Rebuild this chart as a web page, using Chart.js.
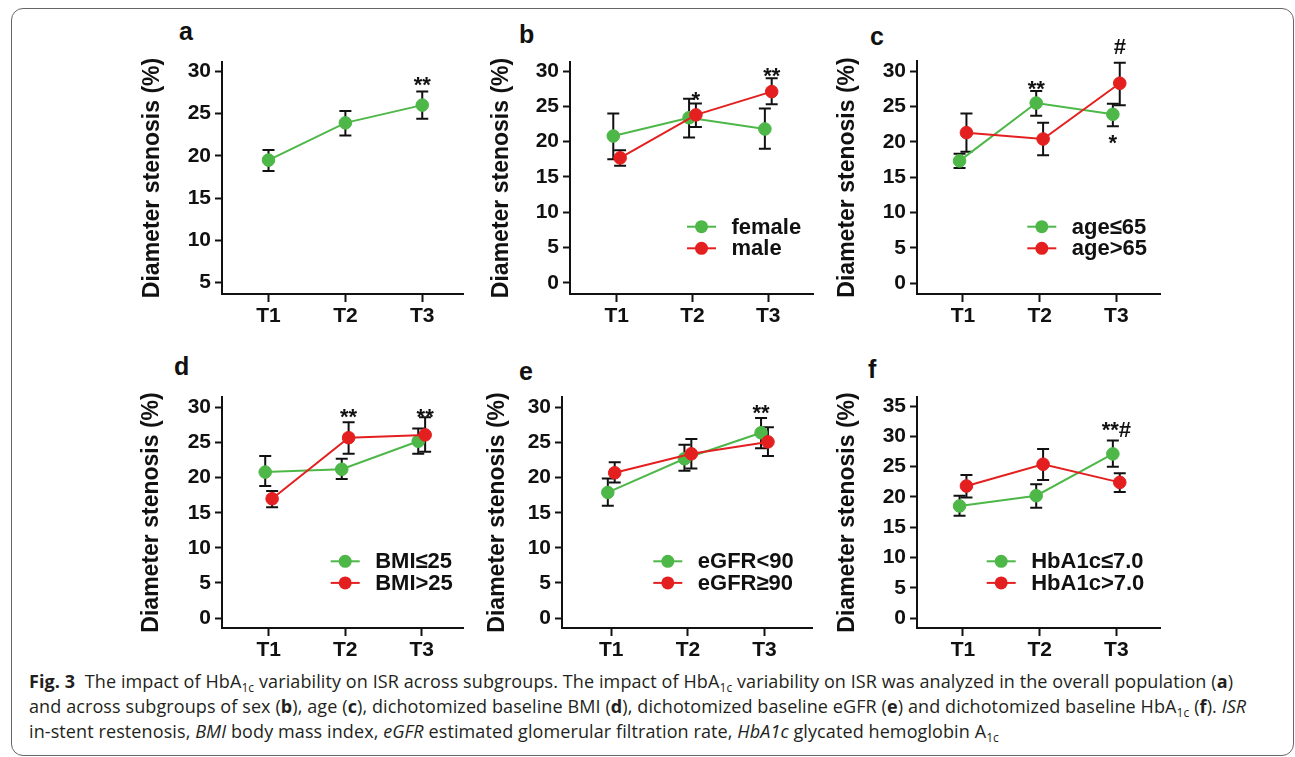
<!DOCTYPE html>
<html>
<head>
<meta charset="utf-8">
<script src="https://cdn.jsdelivr.net/npm/chart.js@4.4.1/dist/chart.umd.min.js"></script>
<style>
  body { margin:0; background:#fff; width:1295px; height:757px; position:relative; overflow:hidden; }
  #frame { position:absolute; left:11px; top:8px; width:1283px; height:748px; box-sizing:border-box; border:1.5px solid #666; border-radius:12px; }
  canvas { position:absolute; }
  .lbl { position:absolute; font: bold 25px/26px 'Liberation Sans', Arial, sans-serif; color:#111; }
  #caption { position:absolute; left:29px; top:669px; font: 18px/25px 'Open Sans', sans-serif; letter-spacing:0.1px; color:#231f20; white-space:nowrap; }
  #caption sub { font-size:12px; vertical-align:-4px; line-height:0; }
</style>
</head>
<body>
<div id="frame"></div>
<div class="lbl" style="left:179px;top:18px">a</div>
<div class="lbl" style="left:519px;top:21px">b</div>
<div class="lbl" style="left:870px;top:23px">c</div>
<div class="lbl" style="left:174px;top:353px">d</div>
<div class="lbl" style="left:519px;top:358px">e</div>
<div class="lbl" style="left:868px;top:356px">f</div>
<div id="caption"><b>Fig. 3</b>&nbsp; The impact of HbA<sub>1c</sub> variability on ISR across subgroups. The impact of HbA<sub>1c</sub> variability on ISR was analyzed in the overall population (<b>a</b>)<br>and across subgroups of sex (<b>b</b>), age (<b>c</b>), dichotomized baseline BMI (<b>d</b>), dichotomized baseline eGFR (<b>e</b>) and dichotomized baseline HbA<sub>1c</sub> (<b>f</b>). <i>ISR</i><br>in-stent restenosis, <i>BMI</i> body mass index, <i>eGFR</i> estimated glomerular filtration rate, <i>HbA1c</i> glycated hemoglobin A<sub>1c</sub></div>

<script>
const timepoints = ['T1', 'T2', 'T3'];

// a - overall population (mean, lower and upper error bar)
const allMean = [19.5, 23.9, 26.0];
const allLow  = [18.2, 22.4, 24.4];
const allHigh = [20.7, 25.3, 27.6];

// b - sex
const femaleMean = [20.8, 23.4, 21.8];
const femaleLow  = [17.5, 20.6, 19.0];
const femaleHigh = [24.0, 26.1, 24.7];
const maleMean = [17.7, 23.8, 27.1];
const maleLow  = [16.6, 22.1, 25.3];
const maleHigh = [18.8, 25.4, 29.0];

// c - age
const youngMean = [17.3, 25.5, 23.9];
const youngLow  = [16.3, 23.7, 22.2];
const youngHigh = [18.3, 27.2, 25.4];
const oldMean = [21.3, 20.4, 28.3];
const oldLow  = [18.6, 18.1, 25.2];
const oldHigh = [24.0, 22.7, 31.2];

// d - BMI
const bmiLoMean = [20.8, 21.2, 25.2];
const bmiLoLow  = [18.8, 19.8, 23.4];
const bmiLoHigh = [23.1, 22.7, 27.0];
const bmiHiMean = [17.0, 25.7, 26.1];
const bmiHiLow  = [15.8, 23.4, 23.7];
const bmiHiHigh = [18.1, 27.9, 28.6];

// e - eGFR
const gfrLoMean = [17.9, 22.7, 26.4];
const gfrLoLow  = [16.0, 21.0, 24.2];
const gfrLoHigh = [19.9, 24.7, 28.5];
const gfrHiMean = [20.7, 23.4, 25.1];
const gfrHiLow  = [19.3, 21.3, 23.1];
const gfrHiHigh = [22.2, 25.5, 27.2];

// f - HbA1c
const hbaLoMean = [18.5, 20.2, 27.1];
const hbaLoLow  = [16.9, 18.2, 25.0];
const hbaLoHigh = [20.2, 22.1, 29.3];
const hbaHiMean = [21.8, 25.4, 22.4];
const hbaHiLow  = [19.9, 22.8, 20.8];
const hbaHiHigh = [23.6, 27.9, 23.9];

// y tick labels
const ticks5to30 = [5, 10, 15, 20, 25, 30];
const ticks0to30 = [0, 5, 10, 15, 20, 25, 30];
const ticks0to35 = [0, 5, 10, 15, 20, 25, 30, 35];

// significance marks: timepoint index, side (-1 green, +1 red), baseline value, text
const marksA = [{ t: 2, side: 0, y: 27.55, s: '**' }];
const marksB = [{ t: 1, side: 1, y: 24.95, s: '*' }, { t: 2, side: 1, y: 28.35, s: '**' }];
const marksC = [{ t: 1, side: -1, y: 26.55, s: '**' }, { t: 2, side: 1, y: 32.4, s: '#' }, { t: 2, side: -1, y: 18.8, s: '*' }];
const marksD = [{ t: 1, side: 1, y: 27.6, s: '**' }, { t: 2, side: 1, y: 27.6, s: '**' }];
const marksE = [{ t: 2, side: -1, y: 28.2, s: '**' }];
const marksF = [{ t: 2, side: 0, y: 29.85, s: '**#' }];

const GREEN = '#4db748';
const RED = '#e3201f';
const INK = '#111';
const FONT = "'Liberation Sans', Arial, sans-serif";
const DODGE = 0.045;

const panels = [
  { area: [222, 62, 463, 294], x: [0.395, 3.53], y: [3.66, 31.1], ticks: ticks5to30, titleX: 153, legend: null, marks: marksA,
    series: [{ label: 'all', mean: allMean, low: allLow, high: allHigh, color: GREEN }] },
  { area: [570, 62, 813, 294], x: [0.384, 3.59], y: [-1.6, 31.3], ticks: ticks0to30, titleX: 502, legend: [687, 226.7], marks: marksB,
    series: [{ label: 'female', mean: femaleMean, low: femaleLow, high: femaleHigh, color: GREEN },
             { label: 'male', mean: maleMean, low: maleLow, high: maleHigh, color: RED }] },
  { area: [917, 61, 1160, 294], x: [0.40, 3.57], y: [-1.55, 31.45], ticks: ticks0to30, titleX: 848, legend: [1027.3, 226.7], marks: marksC,
    series: [{ label: 'age≤65', mean: youngMean, low: youngLow, high: youngHigh, color: GREEN },
             { label: 'age>65', mean: oldMean, low: oldLow, high: oldHigh, color: RED }] },
  { area: [222, 397, 463, 628], x: [0.39, 3.54], y: [-1.42, 31.5], ticks: ticks0to30, titleX: 152, legend: [330.7, 561.3], marks: marksD,
    series: [{ label: 'BMI≤25', mean: bmiLoMean, low: bmiLoLow, high: bmiLoHigh, color: GREEN },
             { label: 'BMI>25', mean: bmiHiMean, low: bmiHiLow, high: bmiHiHigh, color: RED }] },
  { area: [562, 397, 812, 628], x: [0.357, 3.62], y: [-1.42, 31.5], ticks: ticks0to30, titleX: 498, legend: [653.3, 561.3], marks: marksE,
    series: [{ label: 'eGFR<90', mean: gfrLoMean, low: gfrLoLow, high: gfrLoHigh, color: GREEN },
             { label: 'eGFR≥90', mean: gfrHiMean, low: gfrHiLow, high: gfrHiHigh, color: RED }] },
  { area: [917, 397, 1160, 628], x: [0.40, 3.57], y: [-1.65, 36.5], ticks: ticks0to35, titleX: 848, legend: [986.7, 561.3], marks: marksF,
    series: [{ label: 'HbA1c≤7.0', mean: hbaLoMean, low: hbaLoLow, high: hbaLoHigh, color: GREEN },
             { label: 'HbA1c>7.0', mean: hbaHiMean, low: hbaHiLow, high: hbaHiHigh, color: RED }] }
];

// error bars, drawn under the points
const errorBars = {
  id: 'errorBars',
  beforeDatasetsDraw(chart) {
    const { ctx, scales: { x, y } } = chart;
    ctx.save();
    ctx.strokeStyle = INK;
    ctx.lineWidth = 2;
    chart.data.datasets.forEach(ds => {
      ds.data.forEach(p => {
        const px = x.getPixelForValue(p.x);
        const top = y.getPixelForValue(p.hi), bot = y.getPixelForValue(p.lo);
        ctx.beginPath();
        ctx.moveTo(px, top); ctx.lineTo(px, bot);
        ctx.moveTo(px - 6, top); ctx.lineTo(px + 6, top);
        ctx.moveTo(px - 6, bot); ctx.lineTo(px + 6, bot);
        ctx.stroke();
      });
    });
    ctx.restore();
  }
};

// legend inside the plot area
const sideLegend = {
  id: 'sideLegend',
  afterDraw(chart, args, opts) {
    if (!opts.pos) return;
    const ctx = chart.ctx;
    ctx.save();
    chart.data.datasets.forEach((ds, i) => {
      const lx = opts.pos[0], ly = opts.pos[1] + i * 21.6;
      ctx.strokeStyle = ds.borderColor;
      ctx.lineWidth = 2;
      ctx.beginPath(); ctx.moveTo(lx, ly); ctx.lineTo(lx + 29, ly); ctx.stroke();
      ctx.fillStyle = ds.borderColor;
      ctx.beginPath(); ctx.arc(lx + 14.5, ly, 6.5, 0, Math.PI * 2); ctx.fill();
      ctx.fillStyle = INK;
      ctx.font = 'bold 22px ' + FONT;
      ctx.textAlign = 'left';
      ctx.textBaseline = 'middle';
      ctx.fillText(ds.label, lx + 44.5, ly + 1);
    });
    ctx.restore();
  }
};

// significance symbols
const sigMarks = {
  id: 'sigMarks',
  afterDatasetsDraw(chart, args, opts) {
    const { ctx, scales: { x, y } } = chart;
    ctx.save();
    ctx.fillStyle = INK;
    ctx.font = 'bold 22px ' + FONT;
    ctx.textAlign = 'center';
    ctx.textBaseline = 'alphabetic';
    (opts.marks || []).forEach(m => {
      ctx.fillText(m.s, x.getPixelForValue(m.t + 1 + m.side * DODGE), y.getPixelForValue(m.y));
    });
    ctx.restore();
  }
};

function makePanel(p) {
  const yAxisW = 95, xAxisH = 40;
  const [aL, aT, aR, aB] = p.area;
  const cL = Math.floor(aL - yAxisW), cT = Math.floor(aT - 46);
  const cW = Math.ceil(aR + 14 - cL), cH = Math.ceil(aB + xAxisH + 6 - cT);
  const canvas = document.createElement('canvas');
  canvas.width = cW; canvas.height = cH;
  canvas.style.left = cL + 'px'; canvas.style.top = cT + 'px';
  canvas.style.width = cW + 'px'; canvas.style.height = cH + 'px';
  document.body.appendChild(canvas);

  const n = p.series.length;
  const datasets = p.series.map((s, i) => {
    const side = n === 1 ? 0 : (i === 0 ? -1 : 1);
    return {
      label: s.label,
      data: s.mean.map((m, k) => ({ x: k + 1 + side * DODGE, y: m, lo: s.low[k], hi: s.high[k] })),
      borderColor: s.color, backgroundColor: s.color,
      pointBackgroundColor: s.color, pointBorderColor: s.color,
      borderWidth: 2, pointRadius: 6.3, pointHoverRadius: 6.3, pointBorderWidth: 1,
      tension: 0, order: n - i
    };
  });

  const tickFont = { family: FONT, size: 21, weight: 'bold' };
  new Chart(canvas, {
    type: 'line',
    data: { datasets },
    options: {
      responsive: false, animation: false, devicePixelRatio: 1,
      layout: { padding: { left: aL - yAxisW - cL, top: aT - cT, right: cL + cW - aR, bottom: cT + cH - aB - xAxisH } },
      plugins: {
        legend: { display: false }, tooltip: { enabled: false },
        sideLegend: { pos: p.legend ? [p.legend[0] - cL, p.legend[1] - cT] : null },
        sigMarks: { marks: p.marks }
      },
      scales: {
        x: {
          type: 'linear', min: p.x[0], max: p.x[1],
          afterBuildTicks: s => { s.ticks = [1, 2, 3].map(v => ({ value: v })); },
          afterFit: s => { s.height = xAxisH; },
          ticks: { callback: v => timepoints[v - 1], font: tickFont, color: INK, padding: 2, maxRotation: 0, autoSkip: false },
          grid: { drawOnChartArea: false, drawTicks: true, tickLength: 8, tickWidth: 2, tickColor: INK },
          border: { display: true, width: 2, color: INK }
        },
        y: {
          type: 'linear', min: p.y[0], max: p.y[1],
          afterBuildTicks: s => { s.ticks = p.ticks.map(v => ({ value: v })); },
          afterFit: s => { s.width = yAxisW; },
          ticks: { font: tickFont, color: INK, padding: 4, autoSkip: false },
          grid: { drawOnChartArea: false, drawTicks: true, tickLength: 7, tickWidth: 2, tickColor: INK },
          border: { display: true, width: 2, color: INK },
          title: {
            display: true, text: 'Diameter stenosis (%)', color: INK,
            font: { family: FONT, size: 23, weight: 'bold', lineHeight: 1.2 },
            padding: { top: p.titleX - cL - 13.8, bottom: 0 }
          }
        }
      }
    },
    plugins: [errorBars, sideLegend, sigMarks]
  });
}

panels.forEach(makePanel);
</script>
</body>
</html>
